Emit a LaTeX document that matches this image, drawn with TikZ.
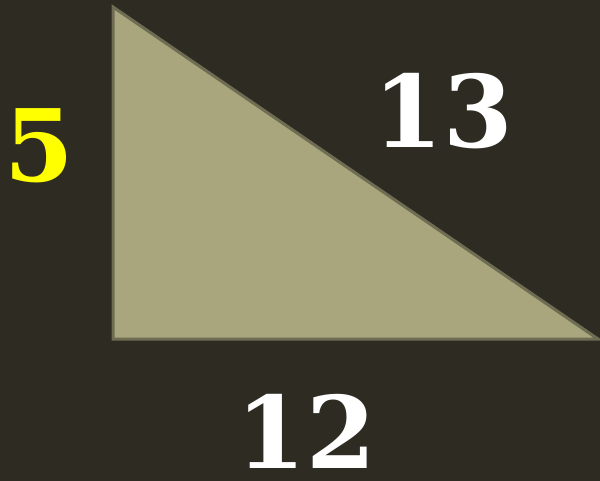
\documentclass[tikz,border=0pt]{standalone}
\usepackage{fontspec}
\setmainfont{DejaVu Serif}
\definecolor{bgcolor}{RGB}{46,43,34}
\definecolor{trifill}{RGB}{169,166,126}
\definecolor{triedge}{RGB}{110,108,82}
\definecolor{shortcolor}{RGB}{255,255,0}

\begin{document}
\begin{tikzpicture}[x=1pt,y=-1pt,
  side/.style={font=\fontsize{100}{100}\selectfont\bfseries,inner sep=0pt}]
  % Background
  \fill[bgcolor] (0,0) rectangle (600,481);
  \useasboundingbox (0,0) rectangle (600,481);
  % Triangle
  \coordinate (top) at (113,7);
  \coordinate (corner) at (113,339);
  \coordinate (right) at (598,339);
  \filldraw[fill=trifill,draw=triedge,line width=3pt,line join=miter] (top) -- (corner) -- (right) -- cycle;
  % Side lengths
  \node at(39,146)[side,text=shortcolor](a){5};
  \node at(443,111)[side,text=white](c){13};
  \node at(306,431)[side,text=white](b){12};
\end{tikzpicture}
\end{document}
